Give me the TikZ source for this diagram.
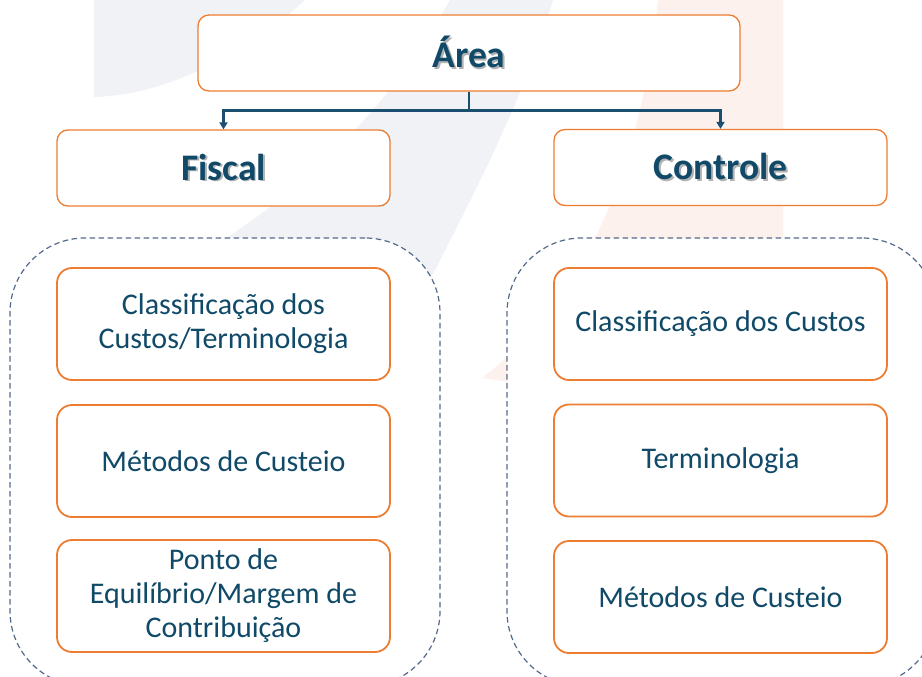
\documentclass[tikz,border=0pt]{standalone}
\usepackage{fontspec}
\setmainfont{Carlito}
\usetikzlibrary{arrows.meta}
\definecolor{orangeb}{RGB}{237,125,49}
\definecolor{txt}{RGB}{16,74,104}
\definecolor{conncol}{RGB}{27,79,112}
\definecolor{dashcol}{RGB}{84,106,140}
\definecolor{wmgray}{RGB}{241,242,246}
\definecolor{wmpink}{RGB}{253,241,238}
\newcommand{\shadowtxt}[1]{\makebox[0pt][l]{\hspace{1.8pt}\raisebox{-1.8pt}{\color{black!30}#1}}#1}
\tikzset{
  box/.style={draw=orangeb, line width=1.3pt, rounded corners=11pt, fill=white, text=txt, inner sep=0pt, align=center},
  topbox/.style={box, minimum height=76pt, font=\fontsize{37.5}{42}\selectfont\bfseries},
  itembox/.style={box, line width=1.8pt, rounded corners=15pt, minimum width=333pt, minimum height=112pt, font=\fontsize{30}{34}\selectfont},
  grp/.style={draw=dashcol, dash pattern=on 5.5pt off 3.5pt, line width=1.2pt, rounded corners=75pt, fill=white, minimum width=430pt, minimum height=448pt, inner sep=0pt},
  conn/.style={draw=conncol, line width=2.8pt, -{Triangle[length=7pt,width=8pt]}}
}
\begin{document}
\begin{tikzpicture}[x=1pt,y=-1pt]
\clip (0,0) rectangle (922,677);
\fill[white] (0,0) rectangle (922,677);
% watermark
\fill[wmgray] (94,0) -- (94,97) .. controls (170,95) and (250,50) .. (305,0) -- cycle;
\fill[wmgray] (450,0) .. controls (400,90) and (320,180) .. (215,245) -- (420,300) .. controls (470,200) and (520,110) .. (553,0) -- cycle;
\fill[wmpink] (658,0) -- (783,0) -- (783,420) -- (482,378) .. controls (610,280) and (645,120) .. (658,0) -- cycle;
% groups
\node[grp] (gl) at (225,462) {};
\node[grp] (gr) at (722,462) {};
% top boxes
\node[topbox, minimum width=542pt] (area) at (469,53) {\shadowtxt{Área}};
\node[topbox, minimum width=333pt] (fiscal) at (223.5,168) {\shadowtxt{Fiscal}};
\node[topbox, minimum width=333pt] (controle) at (720.5,167.5) {\shadowtxt{Controle}};
% connectors
\draw[conn] (area.south) -- ++(0,19) -| (fiscal.north);
\draw[conn] (area.south) -- ++(0,19) -| (controle.north);
% items left
\node[itembox] (l1) at (223.5,324) {Classificação dos\\Custos/Terminologia};
\node[itembox] (l2) at (223.5,461) {Métodos de Custeio};
\node[itembox] (l3) at (223.5,596) {Ponto de\\Equilíbrio/Margem de\\Contribuição};
% items right
\node[itembox] (r1) at (720.5,324) {Classificação dos Custos};
\node[itembox] (r2) at (720.5,460.5) {Terminologia};
\node[itembox] (r3) at (720.5,597) {Métodos de Custeio};
\end{tikzpicture}
\end{document}
